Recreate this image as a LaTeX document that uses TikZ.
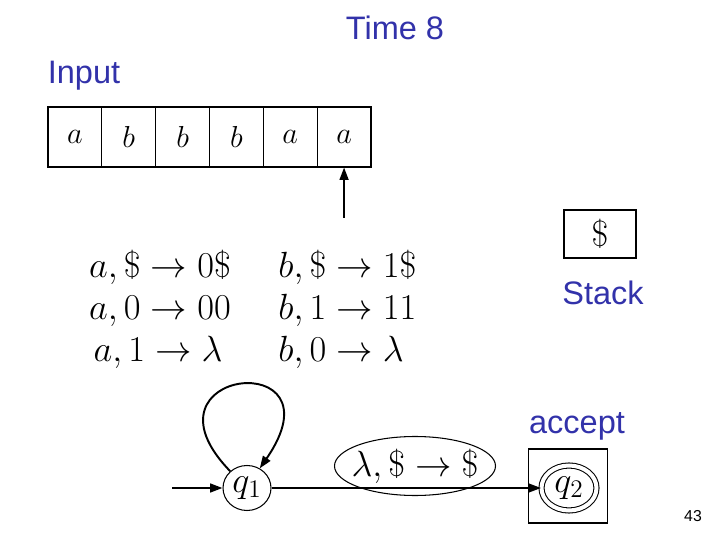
\documentclass[tikz,border=0pt]{standalone}
\usepackage{fontspec}
\setsansfont{Liberation Sans}
\usepackage{tikz}
\usetikzlibrary{arrows.meta}
\usetikzlibrary{shapes.geometric}
\usepackage{xcolor}
\definecolor{slideblue}{RGB}{50,50,170}

\begin{document}
\begin{tikzpicture}[x=0.02cm,y=-0.02cm,>={Triangle[length=7pt,width=5pt]},
	title/.style={text=slideblue,font=\sffamily\fontsize{18.5}{20}\selectfont},
	cell/.style={draw,line width=0.6pt,minimum width=1.077cm,minimum height=1.2cm,inner sep=0pt,font=\fontsize{16}{17}\selectfont},
	rule/.style={font=\fontsize{20.5}{22}\selectfont},
	state/.style={draw,ellipse,line width=0.6pt,inner sep=0pt,font=\fontsize{21}{22}\selectfont},
	edge/.style={->,line width=1.1pt}]
		
		\useasboundingbox (0,0) rectangle (720,540);
		
		\node[title] (time) at (395,28) {Time 8};
		\node[title] (input) at (84,76) {Input};
		
		% Input tape and head
		\foreach \s [count=\i] in {a,b,b,b,a,a}
		\node[cell] (cell\i) at ({48+53.83*(\i-0.5)},137) {$\s$};
		\path (cell6.south) ++(0,50) coordinate (head);
		\draw[edge] (head) -- (cell6.south);
		
		% Stack
		\node[draw,line width=0.6pt,minimum width=1.44cm,minimum height=0.96cm,font=\fontsize{20}{22}\selectfont] (stack) at (600,234) {$\$$};
		\node[title] (stacklabel) at (603,293) {Stack};
		
		% Loop rules on q1
		\node[rule,anchor=base] (ra1) at (160,278) {$a,\$\rightarrow 0\$$};
		\node[rule,anchor=base] (ra2) at (160,320) {$a,0\rightarrow 00$};
		\node[rule,anchor=base] (ra3) at (158,362) {$a,1\rightarrow \lambda$};
		\node[rule,anchor=base west,inner sep=0pt] (rb1) at (278,278) {$b,\$\rightarrow 1\$$};
		\node[rule,anchor=base west,inner sep=0pt] (rb2) at (278,320) {$b,1\rightarrow 11$};
		\node[rule,anchor=base west,inner sep=0pt] (rb3) at (278,362) {$b,0\rightarrow \lambda$};
		
		% States
		\node[state,minimum width=0.96cm,minimum height=0.9cm] (q1) at (247,488) {$q_1$};
		\node[state,double,double distance=0.08cm,minimum width=1.1cm,minimum height=0.9cm] (q2) at (569,488) {$q_2$};
		\node[draw,line width=0.6pt,minimum width=1.58cm,minimum height=1.48cm] (q2box) at (568,486) {};
		\node[title] (accept) at (577,426) {accept};
		
		\coordinate (start) at (172,488);
		\draw[edge] (start) -- (q1);
		\draw[edge] (q1.135) .. controls (130,368) and (345,345) .. (q1.57);
		\draw[edge] (q1) -- (q2);
		
		% Pop rule on the way to q2
		\node[font=\fontsize{21}{22}\selectfont] (pop) at (415,466) {$\lambda,\$\rightarrow\$$};
		\draw[line width=0.6pt] (pop) ellipse [x radius=80.5,y radius=29.5];
		
		\node[font=\sffamily\fontsize{9}{10}\selectfont] (page) at (693,516) {43};
		
	\end{tikzpicture}
\end{document}
